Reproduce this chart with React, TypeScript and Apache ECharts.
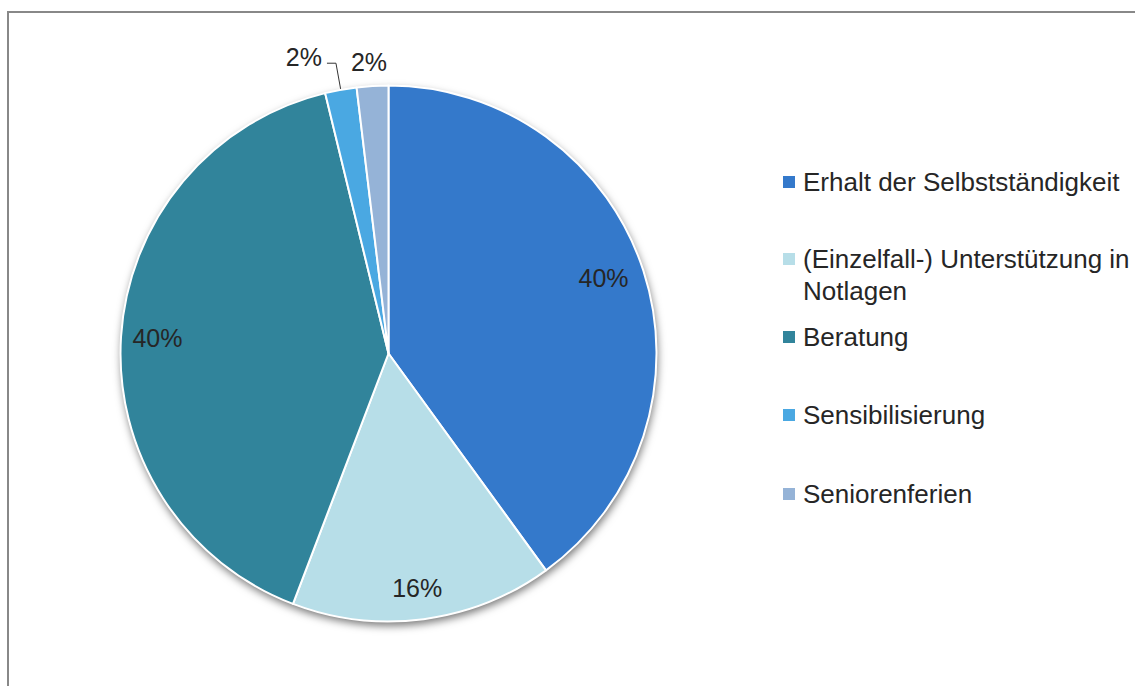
import React, { useEffect, useRef } from "react";
import * as echarts from "echarts";

const categories = [
  "Erhalt der Selbstständigkeit",
  "(Einzelfall-) Unterstützung in Notlagen",
  "Beratung",
  "Sensibilisierung",
  "Seniorenferien",
];
const legendLabels = [
  "Erhalt der Selbstständigkeit",
  "\n(Einzelfall-) Unterstützung in\nNotlagen",
  "Beratung",
  "Sensibilisierung",
  "Seniorenferien",
];
const values = [40.0, 15.8, 40.4, 1.9, 1.9];
const colors = ["#3479CB", "#B7DEE8", "#31849B", "#4AA8E2", "#95B3D7"];

const FONT = "'Liberation Sans', Arial, Helvetica, sans-serif";
const TEXT_COLOR = "#262626";
const CENTER = [388.5, 353.5];
const R = 268;
const legendTops = [166, 211, 321, 399, 478];
const insideLabelNudge: Record<number, { dx: number; dy: number }> = {
  0: { dx: -7, dy: -3 },
  1: { dx: -2, dy: 3 },
  2: { dx: 2, dy: -1 },
};

export default function App() {
  const ref = useRef<HTMLDivElement>(null);
  useEffect(() => {
    if (!ref.current) return;
    const chart = echarts.init(ref.current, undefined, { renderer: "svg" });

    const mainData = categories.map((name, i) => {
      const small = values[i] < 5;
      return {
        name,
        value: values[i],
        itemStyle: { color: colors[i] },
        label: small
          ? {
              show: true,
              position: "outside",
              formatter: i === 3 ? "{a|{d}%}\n{e|}" : "{a|{d}%}",
            }
          : { show: false },
        labelLine:
          i === 3
            ? { show: true, length: 27, length2: 9 }
            : i === 4
            ? { show: false, length: 24, length2: 0 }
            : { show: false },
      };
    });

    const overlayData = categories.map((name, i) => ({
      name,
      value: values[i],
      label: { show: values[i] >= 5 },
    }));

    const legends = categories.map((name, i) => ({
      data: [name],
      orient: "vertical",
      left: 781,
      top: legendTops[i],
      padding: 0,
      itemWidth: 14,
      itemHeight: 14,
      icon: "rect",
      selectedMode: false,
      formatter: (n: string) => legendLabels[categories.indexOf(n)],
      textStyle: {
        fontFamily: FONT,
        fontSize: 26,
        color: TEXT_COLOR,
        lineHeight: 32,
        padding: [0, 0, 0, 2],
      },
    }));

    chart.setOption({
      animation: false,
      backgroundColor: "#fff",
      graphic: [
        {
          type: "rect",
          z: -10,
          shape: { x: 8, y: 12, width: 1200, height: 800 },
          style: { fill: "none", stroke: "#888888", lineWidth: 2 },
          silent: true,
        },
      ],
      legend: legends,
      series: [
        {
          type: "pie",
          name: "main",
          z: 2,
          center: CENTER,
          radius: R,
          startAngle: 90,
          clockwise: true,
          avoidLabelOverlap: false,
          percentPrecision: 0,
          silent: true,
          itemStyle: { borderColor: "#fff", borderWidth: 2 },
          label: {
            fontFamily: FONT,
            fontSize: 25,
            color: TEXT_COLOR,
            distanceToLabelLine: 5,
            rich: {
              a: { fontFamily: FONT, fontSize: 25, color: TEXT_COLOR, lineHeight: 30 },
              e: { fontSize: 1, lineHeight: 13, height: 13 },
            },
          },
          labelLine: { lineStyle: { color: "#333", width: 1 }, smooth: false },
          labelLayout: (p: any) => (p.dataIndex === 4 ? { dx: 21 } : {}),
          emphasis: { disabled: true },
          data: mainData,
        },
        {
          type: "pie",
          name: "shadow",
          z: 1,
          center: CENTER,
          radius: R,
          silent: true,
          label: { show: false },
          labelLine: { show: false },
          itemStyle: {
            color: "#fff",
            shadowBlur: 8,
            shadowOffsetX: 1,
            shadowOffsetY: 4,
            shadowColor: "rgba(0,0,0,0.55)",
          },
          emphasis: { disabled: true },
          data: [{ name: "__bg", value: 1 }],
        },
        {
          type: "pie",
          name: "labels",
          z: 3,
          center: CENTER,
          radius: [193, R],
          startAngle: 90,
          clockwise: true,
          avoidLabelOverlap: false,
          percentPrecision: 0,
          silent: true,
          itemStyle: { color: "rgba(0,0,0,0)", borderWidth: 0 },
          label: {
            position: "inside",
            fontFamily: FONT,
            fontSize: 25,
            color: TEXT_COLOR,
            formatter: "{d}%",
          },
          labelLayout: (p: any) => insideLabelNudge[p.dataIndex] || {},
          labelLine: { show: false },
          emphasis: { disabled: true },
          data: overlayData,
        },
      ],
    });

    return () => chart.dispose();
  }, []);

  return (
    <div
      ref={ref}
      style={{ position: "fixed", left: 0, top: 0, width: 1135, height: 686 }}
    />
  );
}
